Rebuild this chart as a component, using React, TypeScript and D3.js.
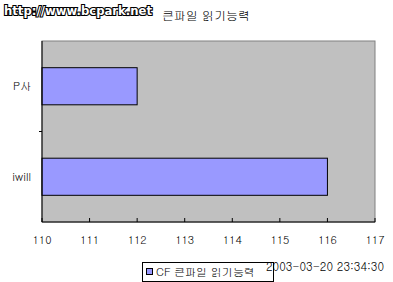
import React from "react";
import * as d3 from "d3";

const categories = ["P사", "iwill"];
const values = [112, 116];
const xTicks = [110, 111, 112, 113, 114, 115, 116, 117];
const titleText = "큰파일 읽기능력";
const watermark = "http://www.bcpark.net";
const legendLabel = "CF 큰파일 읽기능력";
const timestamp = "2003-03-20 23:34:30";

export default function App() {
  const W = 393, H = 282;
  const left = 42, right = 375, top = 41, bottom = 222;
  const x = d3.scaleLinear().domain([110, 117]).range([left, right]);
  const y = d3.scaleBand().domain(categories).range([top, bottom]).paddingInner(0.59).paddingOuter(0.295);
  const yb = d3.scaleBand().domain(categories).range([top, bottom]);
  const font = "Gulim, 'DejaVu Sans', 'Noto Sans CJK KR', sans-serif";
  return (
    <div style={{ position: "fixed", left: 0, top: 0 }}>
      <svg width={W} height={H} style={{ display: "block", background: "#fff" }}>
        <rect x={left} y={top} width={right - left} height={bottom - top} fill="#C0C0C0" stroke="#808080" strokeWidth={1} />
        {categories.map((c, i) => (
          <rect key={c} x={left} y={y(c)!} width={x(values[i]) - left} height={y.bandwidth()}
            fill="#9999FF" stroke="#000" strokeWidth={1} />
        ))}
        <line x1={left} x2={left} y1={top} y2={bottom} stroke="#000" />
        <line x1={left} x2={right} y1={bottom} y2={bottom} stroke="#000" />
        {xTicks.map((t) => (
          <g key={t}>
            <line x1={x(t)} x2={x(t)} y1={bottom - 4} y2={bottom} stroke="#000" />
            <text x={x(t)} y={244} textAnchor="middle" fontSize={11} fontFamily={font} fill="#000">{t}</text>
          </g>
        ))}
        {categories.map((c, i) => i > 0 && (
          <line key={c} x1={left - 3} x2={left} y1={yb(c)!} y2={yb(c)!} stroke="#000" />
        ))}
        {categories.map((c) => (
          <text key={c} x={31} y={y(c)! + y.bandwidth() / 2 + 4} textAnchor="end" fontSize={11} fontFamily={font} fill="#000">{c}</text>
        ))}
        <text x={4} y={15} fontSize={12} fontWeight="bold" fontFamily="'DejaVu Sans', sans-serif" fill="#fff" stroke="#000" strokeWidth={2.2} paintOrder="stroke" textLength={148} lengthAdjust="spacingAndGlyphs">{watermark}</text>
        <text x={162} y={20} fontSize={12} fontFamily={font} fill="#000">{titleText}</text>
        <rect x={142.5} y={262.5} width={131} height={19} fill="#fff" stroke="#000" />
        <rect x={146.5} y={268.5} width={6} height={6} fill="#9999FF" stroke="#000" />
        <text x={156} y={276} fontSize={11} fontFamily={font} fill="#000">{legendLabel}</text>
        <text x={266} y={271} fontSize={13} fontFamily={font} fill="#000" textLength={118} lengthAdjust="spacingAndGlyphs">{timestamp}</text>
      </svg>
    </div>
  );
}
